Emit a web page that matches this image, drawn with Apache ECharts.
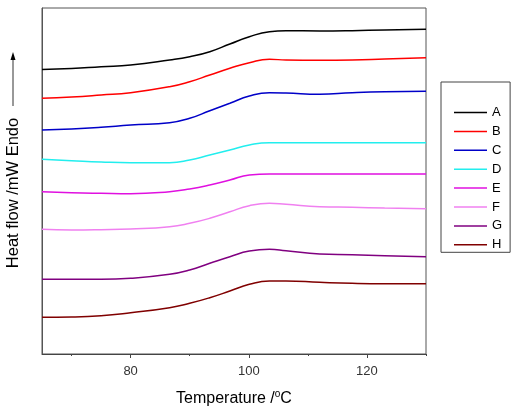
<!DOCTYPE html>
<html>
<head>
<meta charset="utf-8">
<script src="https://cdn.jsdelivr.net/npm/echarts@6/dist/echarts.min.js"></script>
<style>
  html, body { margin: 0; padding: 0; background: #fff; }
  #chart { width: 515px; height: 406px; }
</style>
</head>
<body>
<div id="chart"></div>
<script>
// temperature (°C) sample points, shared by all curves
const temps = [65, 70, 75, 80, 86.6, 90, 93.4, 96.8, 100.1, 103.5, 106.3, 112, 117.5, 123, 130];

// heat flow (arbitrary offset, mW)
const sA = [28.45, 28.55, 28.73, 28.9, 29.4, 29.73, 30.23, 31.0, 31.73, 32.23, 32.33, 32.3, 32.33, 32.4, 32.47];
const sB = [25.57, 25.7, 25.9, 26.13, 26.73, 27.23, 27.9, 28.57, 29.13, 29.47, 29.4, 29.37, 29.4, 29.5, 29.63];
const sC = [22.4, 22.5, 22.67, 22.9, 23.13, 23.57, 24.33, 25.07, 25.8, 26.13, 26.1, 25.97, 26.13, 26.23, 26.27];
const sD = [19.47, 19.33, 19.2, 19.13, 19.13, 19.4, 19.9, 20.4, 20.9, 21.13, 21.13, 21.13, 21.13, 21.13, 21.13];
const sE = [16.23, 16.13, 16.07, 16.03, 16.23, 16.5, 16.9, 17.4, 17.9, 18.0, 18.0, 18.0, 18.0, 18.0, 18.0];
const sF = [12.47, 12.4, 12.43, 12.5, 12.73, 13.07, 13.57, 14.23, 14.83, 15.07, 14.97, 14.73, 14.67, 14.6, 14.53];
const sG = [7.47, 7.47, 7.47, 7.57, 7.97, 8.4, 9.07, 9.73, 10.3, 10.47, 10.33, 10.0, 9.93, 9.83, 9.73];
const sH = [3.67, 3.7, 3.83, 4.13, 4.63, 5.07, 5.63, 6.3, 6.97, 7.3, 7.3, 7.17, 7.07, 7.03, 7.03];

const names = ['A', 'B', 'C', 'D', 'E', 'F', 'G', 'H'];
const colors = ['#000000', '#ff0000', '#0000c8', '#22eeee', '#e010e0', '#f080f0', '#800080', '#800000'];
const allSeries = [sA, sB, sC, sD, sE, sF, sG, sH];

const majorTicks = [80, 100, 120];
const minorTicks = [70, 90, 110, 130];

const font = 'Liberation Sans, Arial, sans-serif';

const chart = echarts.init(document.getElementById('chart'));

chart.setOption({
    animation: false,
    textStyle: { fontFamily: font },
    grid: {
        left: 42, right: 89, top: 8, bottom: 52,
        outerBoundsMode: 'none',
        containLabel: false,
        show: true, borderColor: '#555', borderWidth: 1
    },
    legend: {
        orient: 'vertical',
        left: 441, top: 82,
        padding: [24, 8, 1, 13],
        itemWidth: 33, itemHeight: 14, itemGap: 5.9,
        icon: 'path://M0,0h33v1.5h-33z',
        borderColor: '#444', borderWidth: 1,
        textStyle: { fontSize: 13, color: '#000', fontFamily: font },
        data: names
    },
    xAxis: [{
        type: 'value', min: 65, max: 130,
        axisLine: { lineStyle: { color: '#444' } },
        splitLine: { show: false },
        axisTick: { customValues: majorTicks, length: 4, lineStyle: { color: '#444' } },
        axisLabel: { customValues: majorTicks, fontSize: 13, color: '#333', margin: 11 },
        name: 'Temperature /{sup|o}C',
        nameLocation: 'middle', nameGap: 35,
        nameTextStyle: {
            fontSize: 16, color: '#000',
            rich: { sup: { fontSize: 10, verticalAlign: 'top', padding: [0, 0, 9, 0] } }
        }
    }, {
        type: 'value', min: 65, max: 130, position: 'bottom',
        axisLine: { show: false },
        splitLine: { show: false },
        axisTick: { customValues: minorTicks, length: 2, lineStyle: { color: '#444' } },
        axisLabel: { show: false }
    }],
    yAxis: {
        type: 'value', min: 0, max: 34.6,
        axisLine: { show: true, lineStyle: { color: '#555' } },
        axisTick: { show: false },
        axisLabel: { show: false },
        splitLine: { show: false }
    },
    graphic: [{
        type: 'text',
        x: 13, y: 193, rotation: Math.PI / 2,
        style: {
            text: 'Heat flow /mW Endo', fontSize: 16.5, fill: '#000',
            fontFamily: font, align: 'center', verticalAlign: 'middle'
        }
    }, {
        type: 'line',
        shape: { x1: 13, y1: 106, x2: 13, y2: 58 },
        style: { stroke: '#333', lineWidth: 1 }
    }, {
        type: 'polygon',
        shape: { points: [[13, 52], [10.5, 60], [15.5, 60]] },
        style: { fill: '#000' }
    }],
    series: allSeries.map((vals, i) => ({
        name: names[i],
        type: 'line',
        smooth: 0.5,
        symbol: 'none',
        color: colors[i],
        lineStyle: { width: 1.5, color: colors[i] },
        data: vals.map((v, j) => [temps[j], v])
    }))
});
</script>
</body>
</html>
